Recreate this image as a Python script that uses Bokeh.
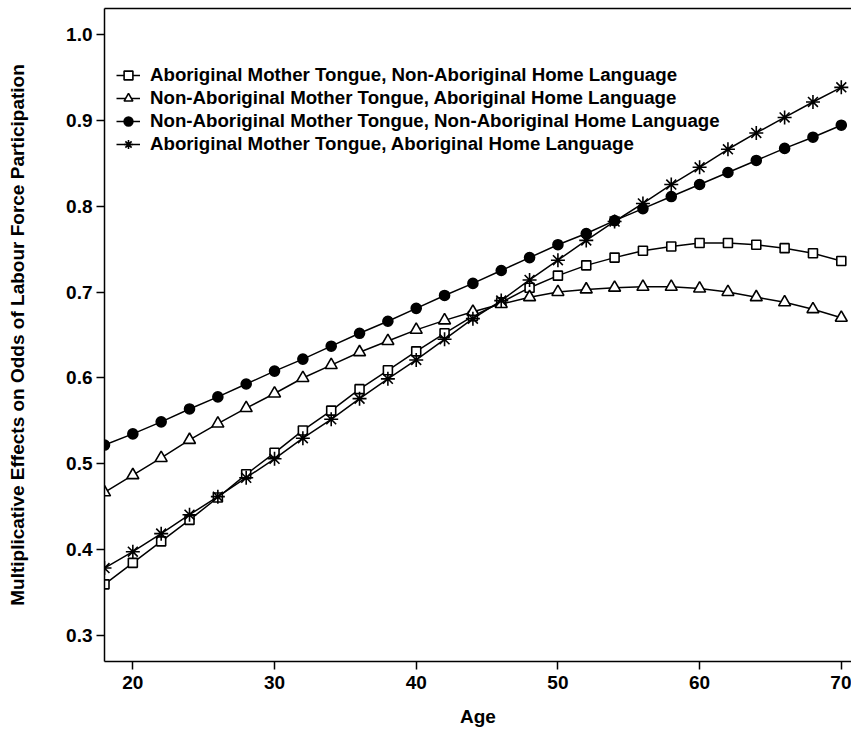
from bokeh.plotting import figure
from bokeh.models import (FixedTicker, PrintfTickFormatter, Range1d, Legend,
                          LegendItem, LinearAxis)
from bokeh.embed import file_html
from bokeh.resources import INLINE

# Ages at which the model effects are evaluated
ages = [18, 20, 22, 24, 26, 28, 30, 32, 34, 36, 38, 40, 42, 44, 46, 48, 50,
        52, 54, 56, 58, 60, 62, 64, 66, 68, 70]

# Multiplicative effects on odds of labour force participation, by language group
abor_mt_nonabor_hl = [0.360, 0.385, 0.410, 0.435, 0.461, 0.488, 0.513, 0.539, 0.562,
                      0.587, 0.609, 0.631, 0.652, 0.672, 0.688, 0.705, 0.719, 0.731,
                      0.740, 0.748, 0.753, 0.757, 0.757, 0.755, 0.751, 0.745, 0.736]
nonabor_mt_abor_hl = [0.467, 0.487, 0.507, 0.528, 0.547, 0.565, 0.582, 0.600, 0.615,
                      0.630, 0.643, 0.656, 0.667, 0.677, 0.686, 0.694, 0.700, 0.703,
                      0.705, 0.706, 0.706, 0.704, 0.700, 0.694, 0.688, 0.680, 0.670]
nonabor_mt_nonabor_hl = [0.522, 0.535, 0.549, 0.564, 0.578, 0.593, 0.608, 0.622, 0.637,
                         0.652, 0.666, 0.681, 0.696, 0.710, 0.725, 0.740, 0.755, 0.768,
                         0.783, 0.797, 0.811, 0.825, 0.839, 0.853, 0.867, 0.880, 0.894]
abor_mt_abor_hl = [0.379, 0.398, 0.419, 0.441, 0.462, 0.484, 0.506, 0.530, 0.552,
                   0.576, 0.599, 0.621, 0.645, 0.669, 0.690, 0.714, 0.737, 0.760,
                   0.782, 0.803, 0.825, 0.845, 0.866, 0.885, 0.903, 0.921, 0.938]

series_labels = [
    "Aboriginal Mother Tongue, Non-Aboriginal Home Language",
    "Non-Aboriginal Mother Tongue, Aboriginal Home Language",
    "Non-Aboriginal Mother Tongue, Non-Aboriginal Home Language",
    "Aboriginal Mother Tongue, Aboriginal Home Language",
]

x_ticks = [20, 30, 40, 50, 60, 70]
y_ticks = [0.3, 0.4, 0.5, 0.6, 0.7, 0.8, 0.9, 1.0]

FONT = "Liberation Sans"
FS = "19px"

p = figure(width=851, height=735, output_backend="svg", toolbar_location=None,
           x_range=Range1d(18.0, 70.72), y_range=Range1d(0.2703, 1.0297),
           min_border_left=104, min_border_right=0, min_border_top=8,
           min_border_bottom=74)

p.xgrid.visible = False
p.ygrid.visible = False
p.outline_line_color = None
p.background_fill_color = "white"
p.border_fill_color = "white"

for ax in (p.xaxis[0], p.yaxis[0]):
    ax.axis_line_width = 1.5
    ax.major_tick_line_width = 1.5
    ax.major_tick_in = 0
    ax.major_tick_out = 8
    ax.minor_tick_line_color = None
    ax.major_label_text_font = FONT
    ax.major_label_text_font_style = "bold"
    ax.major_label_text_font_size = FS
    ax.major_label_text_color = "black"
    ax.axis_label_text_font = FONT
    ax.axis_label_text_font_style = "bold"
    ax.axis_label_text_font_size = FS
    ax.axis_label_text_color = "black"

p.xaxis.ticker = FixedTicker(ticks=x_ticks)
p.yaxis.ticker = FixedTicker(ticks=y_ticks)
p.yaxis.formatter = PrintfTickFormatter(format="%.1f")
p.xaxis.axis_label = "Age"
p.yaxis.axis_label = "Multiplicative Effects on Odds of Labour Force Participation"
p.xaxis.major_label_standoff = 6
p.xaxis.axis_label_standoff = 14
p.yaxis.major_label_standoff = 4
p.yaxis.axis_label_standoff = 35

# plain top border line of the plotting box
top = LinearAxis(axis_line_width=1.5, major_tick_line_color=None,
                 minor_tick_line_color=None, major_label_text_font_size="0px")
top.ticker = FixedTicker(ticks=[])
p.add_layout(top, "above")

items = []
styles = [
    (abor_mt_nonabor_hl, "square", 9, "white"),
    (nonabor_mt_abor_hl, "triangle", 12, "white"),
    (nonabor_mt_nonabor_hl, "circle", 10, "black"),
    (abor_mt_abor_hl, "asterisk", 14, "black"),
]
for (vals, marker, size, fill), label in zip(styles, series_labels):
    ln = p.line(ages, vals, line_color="black", line_width=1.5)
    sc = p.scatter(ages, vals, marker=marker, size=size, line_color="black",
                   line_width=1.6, fill_color=fill)
    items.append(LegendItem(label=label, renderers=[ln, sc]))

legend = Legend(items=items, location=(12, 506))
legend.border_line_color = None
legend.background_fill_alpha = 0
legend.padding = 0
legend.margin = 0
legend.spacing = 1
legend.glyph_width = 24
legend.glyph_height = 22
legend.label_height = 22
legend.label_standoff = 10
legend.label_text_font = FONT
legend.label_text_font_style = "bold"
legend.label_text_font_size = "18.7px"
legend.label_text_color = "black"
p.add_layout(legend, "center")

open("out.html", "w").write(file_html(p, INLINE))
